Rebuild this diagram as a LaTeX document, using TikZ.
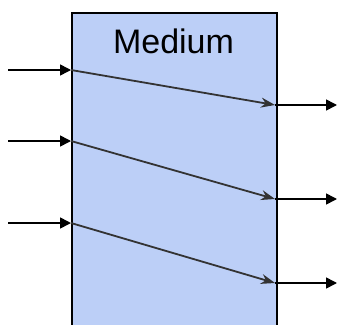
\documentclass[tikz,border=0pt]{standalone}
\usepackage{fontspec}
\setmainfont{Liberation Sans}
\usetikzlibrary{arrows.meta}
\definecolor{medfill}{HTML}{BCCFF7}
\definecolor{inner}{HTML}{333333}
\begin{document}
\begin{tikzpicture}[x=1pt,y=-1pt,
  outer/.style={line width=1.6pt,black,-{Triangle[length=11pt,width=11pt]}},
  innerarrow/.style={line width=1.8pt,inner,-{Stealth[length=14pt,width=10pt,inset=4.5pt]}},
  medium/.style={draw=black,line width=1.7pt,fill=medfill,minimum width=205pt,minimum height=330pt,inner sep=0pt,anchor=north west}]
\useasboundingbox (0,0) rectangle (337,324);
\clip (0,0) rectangle (337,324);
\node[medium] (box) at (71,12) {};
\node[font=\fontsize{34pt}{36pt}\selectfont,anchor=base] (lbl) at (173.5,53) {Medium};
\coordinate (a1) at (8,70);
\coordinate (a2) at (8,141);
\coordinate (a3) at (8,223);
\coordinate (b1) at (71,70);
\coordinate (b2) at (71,141);
\coordinate (b3) at (71,223);
\coordinate (c1) at (275,105);
\coordinate (c2) at (275,199);
\coordinate (c3) at (275,283);
\coordinate (d1) at (337,105);
\coordinate (d2) at (337,199);
\coordinate (d3) at (337,283);
\draw[outer] (a1) -- (b1);
\draw[outer] (a2) -- (b2);
\draw[outer] (a3) -- (b3);
\draw[innerarrow] (b1) -- (c1);
\draw[innerarrow] (b2) -- (c2);
\draw[innerarrow] (b3) -- (c3);
\draw[outer] (c1) -- (d1);
\draw[outer] (c2) -- (d2);
\draw[outer] (c3) -- (d3);
\end{tikzpicture}
\end{document}
